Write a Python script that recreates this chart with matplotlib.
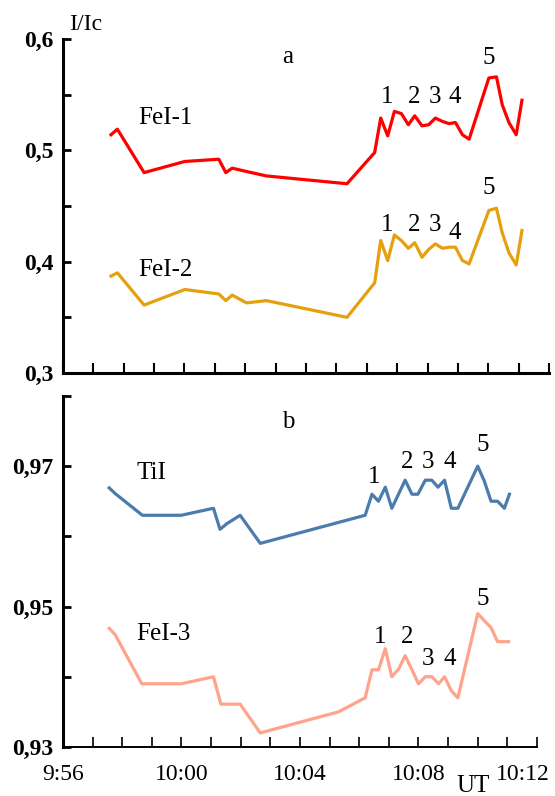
import numpy as np
import matplotlib.pyplot as plt
from matplotlib.transforms import ScaledTranslation

plt.rcParams['font.family'] = ['Liberation Serif', 'DejaVu Serif']

# ---------------      Datos       -------------------------
# tiempo en minutos despues de las 9:00
t_top = [57.58, 57.79, 58.67, 60.01, 61.13, 61.36, 61.57, 62.04, 62.70, 65.35,
         66.26, 66.46, 66.69, 66.91, 67.14, 67.37, 67.58, 67.82, 68.04, 68.26,
         68.49, 68.71, 68.92, 69.15, 69.37, 70.02, 70.27, 70.46, 70.68, 70.92, 71.11]
fei1 = [0.514, 0.519, 0.480, 0.490, 0.492, 0.480, 0.484, 0.481, 0.477, 0.470,
        0.498, 0.529, 0.513, 0.535, 0.533, 0.523, 0.531, 0.522, 0.523, 0.529,
        0.526, 0.524, 0.525, 0.514, 0.510, 0.565, 0.566, 0.541, 0.525, 0.514, 0.545]
fei2 = [0.387, 0.390, 0.361, 0.375, 0.371, 0.365, 0.370, 0.363, 0.365, 0.350,
        0.381, 0.419, 0.401, 0.424, 0.419, 0.412, 0.417, 0.404, 0.411, 0.416,
        0.412, 0.413, 0.413, 0.401, 0.398, 0.446, 0.448, 0.426, 0.408, 0.397, 0.428]

t_tii = [57.56, 57.76, 58.68, 59.99, 61.08, 61.30, 61.53, 61.98, 62.66, 66.20,
         66.43, 66.65, 66.88, 67.10, 67.55, 67.78, 67.98, 68.23, 68.45, 68.66,
         68.88, 69.11, 69.33, 70.00, 70.22, 70.45, 70.67, 70.90, 71.07]
tii = [0.9669, 0.9661, 0.9630, 0.9630, 0.9640, 0.9610, 0.9618, 0.9630, 0.9590, 0.9630,
       0.9660, 0.9650, 0.9670, 0.9640, 0.9680, 0.9660, 0.9660, 0.9680, 0.9680, 0.9670,
       0.9680, 0.9640, 0.9640, 0.9700, 0.9679, 0.9650, 0.9650, 0.9640, 0.9660]

t_fei3 = [57.56, 57.76, 58.66, 59.99, 61.08, 61.33, 61.98, 62.66, 65.30, 66.20,
          66.43, 66.65, 66.88, 67.10, 67.33, 67.55, 67.78, 68.00, 68.23, 68.45,
          68.68, 68.88, 69.11, 69.33, 70.00, 70.22, 70.45, 70.67, 71.04]
fei3 = [0.9469, 0.9460, 0.9390, 0.9390, 0.9400, 0.9361, 0.9361, 0.9320, 0.9350, 0.9370,
        0.9410, 0.9410, 0.9440, 0.9400, 0.9411, 0.9430, 0.9410, 0.9390, 0.9400, 0.9400,
        0.9390, 0.9400, 0.9380, 0.9370, 0.9490, 0.9480, 0.9470, 0.9450, 0.9450]

x_ticks = [56, 60, 64, 68, 72]
x_labels = ['9:56', '10:00', '10:04', '10:08', '10:12']

# posiciones de los numeros 1..5 sobre cada curva
num_x_top = [66.66, 67.55, 68.24, 68.89, 70.01]
num_y_fei1 = [0.548, 0.548, 0.548, 0.548, 0.583]
num_y_fei2 = [0.433, 0.433, 0.433, 0.426, 0.466]
num_x_bot = [66.50, 67.62, 68.33, 69.04, 70.16]
num_y_tii = [0.9684, 0.9706, 0.9706, 0.9706, 0.9730]
num_x_fei3 = [66.71, 67.62, 68.33, 69.04, 70.16]
num_y_fei3 = [0.9456, 0.9456, 0.9426, 0.9426, 0.9511]

# ---------------      Grafica       -------------------------
fig = plt.figure(figsize=(5.55, 7.96), dpi=100)
ax1 = fig.add_axes([0.1135, 0.5314, 0.8757, 0.4196])
ax2 = fig.add_axes([0.1135, 0.0616, 0.854, 0.441])

lw = 2.3
ax1.plot(t_top, fei1, color='#FF0000', lw=lw)
ax1.plot(t_top, fei2, color='#E6A00E', lw=lw)
ax2.plot(t_tii, tii, color='#4C7BAE', lw=lw)
ax2.plot(t_fei3, fei3, color='#FFA38C', lw=lw)

fs = 18
for i in range(5):
    ax1.text(num_x_top[i], num_y_fei1[i], str(i + 1), ha='center', va='center', fontsize=fs)
    ax1.text(num_x_top[i], num_y_fei2[i], str(i + 1), ha='center', va='center', fontsize=fs)
    ax2.text(num_x_bot[i], num_y_tii[i], str(i + 1), ha='center', va='center', fontsize=fs)
    ax2.text(num_x_fei3[i], num_y_fei3[i], str(i + 1), ha='center', va='center', fontsize=fs)

ax1.text(58.47, 0.529, 'FeI-1', ha='left', va='center', fontsize=fs)
ax1.text(58.47, 0.3925, 'FeI-2', ha='left', va='center', fontsize=fs)
ax1.text(63.4, 0.584, 'a', ha='center', va='center', fontsize=fs)
ax2.text(58.47, 0.969, 'TiI', ha='left', va='center', fontsize=fs)
ax2.text(58.47, 0.9461, 'FeI-3', ha='left', va='center', fontsize=fs)
ax2.text(63.6, 0.9763, 'b', ha='center', va='center', fontsize=fs)

# Ejes
ax1.set_xlim(56, 72)
ax1.set_ylim(0.3, 0.6)
ax1.set_xticks(np.arange(56, 73, 1))
ax1.set_xticklabels([])
ax1.set_yticks([0.3, 0.4, 0.5, 0.6])
ax1.set_yticklabels(['0,3', '0,4', '0,5', '0,6'], fontweight='bold')
ax1.set_yticks([0.35, 0.45, 0.55], minor=True)

ax2.set_xlim(56, 72)
ax2.set_ylim(0.93, 0.98)
ax2.set_xticks(x_ticks)
ax2.set_xticklabels(x_labels)
ax2.set_xticks(np.arange(56, 73, 1), minor=True)
ax2.set_yticks([0.93, 0.95, 0.97])
ax2.set_yticklabels(['0,93', '0,95', '0,97'], fontweight='bold')
ax2.set_yticks([0.94, 0.96, 0.98], minor=True)

for ax in (ax1, ax2):
    ax.spines['top'].set_visible(False)
    ax.spines['right'].set_visible(False)
    ax.spines['left'].set_linewidth(2.2)
    ax.spines['bottom'].set_linewidth(2.2)
    ax.tick_params(axis='both', which='both', direction='in', width=1.5, labelsize=17)
    ax.tick_params(axis='y', which='both', length=6, width=2, pad=7)
    ax.tick_params(axis='x', which='both', length=7, pad=12)
ax2.spines['bottom'].set_linewidth(1.4)
ax2.tick_params(axis='x', which='both', width=1.2)

# la ultima etiqueta (10:12) corrida a la izquierda para que no se corte
last = ax2.get_xticklabels()[-1]
last.set_transform(last.get_transform() + ScaledTranslation(-14 / 100, 0, fig.dpi_scale_trans))

fig.text(86 / 555, 1 - 24 / 796, 'I/Ic', ha='center', va='center', fontsize=17)
fig.text(473 / 555, 1 - 786 / 796, 'UT', ha='center', va='center', fontsize=18)

plt.savefig('out.png', dpi=100)
